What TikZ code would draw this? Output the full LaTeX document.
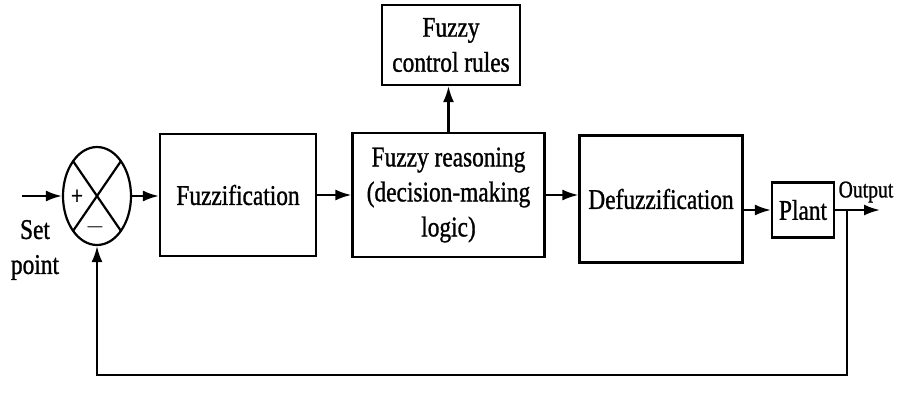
\documentclass[tikz,border=0pt]{standalone}
\usepackage{fontspec}
\setmainfont{Liberation Serif}[FakeStretch=0.82,FakeBold=1]
\usetikzlibrary{arrows.meta,shapes.geometric}
\begin{document}
\begin{tikzpicture}[x=1pt,y=-1pt,
  line width=2.2pt,
  arr/.style={-{Latex[length=16pt,width=11pt]}},
  every node/.style={font=\fontsize{28.5}{35}\selectfont, align=center, inner sep=0pt},
  block/.style={draw, rectangle, line width=2.2pt}]
\useasboundingbox (0,0) rectangle (900,392);

% summing junction
\node[draw, ellipse, minimum width=68pt, minimum height=98pt] (sum) at (97,196) {};
\draw ([shift={(-24,-35)}]sum.center) -- ([shift={(24,35)}]sum.center);
\draw ([shift={(24,-35)}]sum.center) -- ([shift={(-24,35)}]sum.center);
\node (plus) at (77,197) {\fontsize{26}{26}\selectfont +};
\node (minus) at (95,227) {\fontsize{26}{26}\selectfont $-$};

% blocks
\node[block, minimum width=156pt, minimum height=122pt] (fuzz) at (238,195) {Fuzzification};
\node[block, minimum width=192pt, minimum height=124pt] (reason) at (448.5,195) {Fuzzy reasoning\\(decision-making\\logic)};
\node[block, minimum width=138pt, minimum height=80pt] (rules) at (451,45) {Fuzzy\\control rules};
\node[block, minimum width=163pt, minimum height=127pt] (defuzz) at (661,199) {Defuzzification};
\node[block, minimum width=62pt, minimum height=55pt] (plant) at (803,210) {Plant};

% labels
\node (setpt) at (35,250) {Set\\point};
\node (outlbl) at (866,192) {\fontsize{24}{28}\selectfont Output};

% signal path
\coordinate (in) at (22,196);
\coordinate (out) at (880,210);
\coordinate (fb) at (847,210);
\coordinate (bot) at (0,375);

\draw[arr] (in) -- (sum.west);
\draw[arr] (sum.east) -- (sum.east -| fuzz.west);
\draw[arr] (fuzz.east) -- (fuzz.east -| reason.west);
\draw[arr] (reason.north) -- (reason.north |- rules.south);
\draw[arr] (reason.east) -- (reason.east -| defuzz.west);
\draw[arr] (defuzz.east |- plant.west) -- (plant.west);
\draw[arr] (plant.east) -- (out);
\draw[arr] (fb) -- (fb |- bot) -| (sum.south);
\end{tikzpicture}
\end{document}
